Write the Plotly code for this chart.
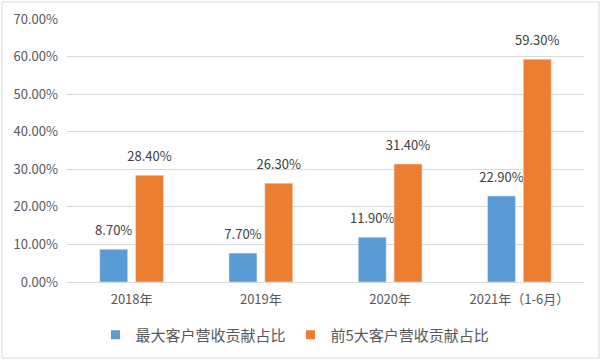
import plotly.graph_objects as go

categories = ["2018年", "2019年", "2020年", "2021年（1-6月）"]
largest_customer = [8.70, 7.70, 11.90, 22.90]
top5_customers = [28.40, 26.30, 31.40, 59.30]
series_names = ["最大客户营收贡献占比", "前5大客户营收贡献占比"]
y_ticks = [0, 10, 20, 30, 40, 50, 60, 70]
colors = ["#5B9BD5", "#ED7D31"]

FONT = "Noto Sans CJK SC"

fig = go.Figure()
for name, vals, col in zip(series_names, [largest_customer, top5_customers], colors):
    fig.add_trace(go.Bar(
        x=categories, y=vals, name=name, marker_color=col,
        text=[f"{v:.2f}%" for v in vals], textposition="outside",
        texttemplate="<span style='font-size:13px'>%{text}</span><br> ",
        constraintext="none",
        textfont=dict(family=FONT, size=7, color="#404040"),
        cliponaxis=False, showlegend=False,
    ))
    fig.add_trace(go.Scatter(
        x=[None], y=[None], mode="markers", name=name,
        marker=dict(symbol="square", size=9, color=col),
    ))

fig.update_layout(
    width=602, height=362,
    margin=dict(l=67, r=18, t=19, b=80, autoexpand=False),
    paper_bgcolor="white", plot_bgcolor="white",
    barmode="group", bargap=0.446, bargroupgap=0.22,
    font=dict(family=FONT, color="#595959"),
    legend=dict(orientation="h", xref="container", x=0.49, xanchor="center",
                yref="container", y=(362 - 335) / 362, yanchor="middle",
                font=dict(family=FONT, size=15, color="#595959"),
                itemwidth=30, tracegroupgap=0),
    xaxis=dict(showgrid=False, showline=True, linecolor="#D9D9D9", linewidth=1,
               tickfont=dict(family=FONT, size=13, color="#595959"), ticks="",
               ticklabelstandoff=5),
    yaxis=dict(range=[0, 70], tickvals=y_ticks,
               ticktext=[f"{t:.2f}%" for t in y_ticks],
               gridcolor="#D9D9D9", gridwidth=1, zeroline=False,
               tickfont=dict(family=FONT, size=13, color="#595959"), ticks="",
               ticklabelstandoff=8),
    shapes=[dict(type="rect", xref="paper", yref="paper",
                 x0=(2 - 67) / 517, x1=(599 - 67) / 517,
                 y0=-(358 - 282) / 263, y1=(282 - 2) / 263,
                 line=dict(color="#D9D9D9", width=1), layer="below")],
)

fig.write_html("out.html", config={"displayModeBar": False},
               post_script="document.body.style.margin='0';")
